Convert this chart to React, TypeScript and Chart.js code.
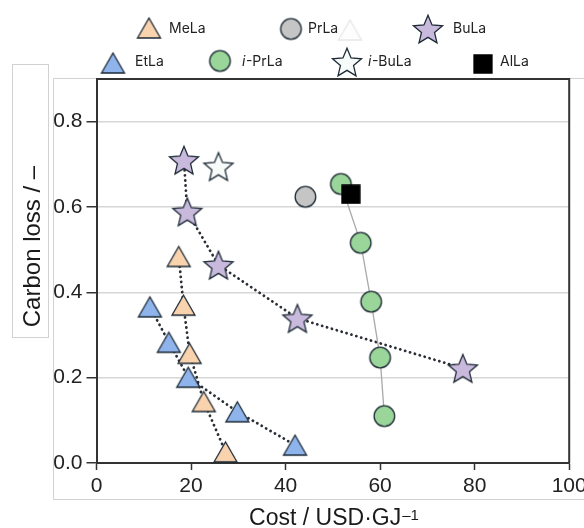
import React, { useEffect, useRef } from 'react';
import { Chart, registerables } from 'chart.js';

Chart.register(...registerables);

// ---- data (Cost / USD·GJ-1, Carbon loss / -) ----
const xTickValues = [0, 20, 40, 60, 80, 100];
const yTickValues = [0, 0.2, 0.4, 0.6, 0.8];

const melaCost = [17.4, 18.4, 19.7, 22.7, 27.3];
const melaLoss = [0.484, 0.37, 0.257, 0.144, 0.026];

const etlaCost = [11.3, 15.3, 19.4, 29.8, 42.0];
const etlaLoss = [0.366, 0.283, 0.201, 0.12, 0.042];

const bulaCost = [18.5, 19.2, 25.8, 42.5, 77.5];
const bulaLoss = [0.71, 0.589, 0.464, 0.339, 0.222];

const ibulaCost = [25.8];
const ibulaLoss = [0.695];

const prlaCost = [44.2];
const prlaLoss = [0.624];

const iprlaCost = [51.7, 55.9, 58.1, 60.0, 60.9];
const iprlaLoss = [0.654, 0.516, 0.378, 0.247, 0.11];

const allaCost = [53.8];
const allaLoss = [0.63];

const toXY = (xs: number[], ys: number[]) => xs.map((x, i) => ({ x, y: ys[i] }));

// ---- marker images ----
const STROKE = '#1d2a35';

function makeMarker(shape: string, fill: string, stroke: string = STROKE): HTMLCanvasElement {
  const c = document.createElement('canvas');
  const ctx = c.getContext('2d')!;
  const lw = 1.3;
  if (shape === 'triangle') {
    const w = 23, h = 20;
    c.width = w + 4; c.height = h + 4;
    ctx.beginPath();
    ctx.moveTo(c.width / 2, 2);
    ctx.lineTo(2 + w, 2 + h);
    ctx.lineTo(2, 2 + h);
    ctx.closePath();
  } else if (shape === 'circle') {
    const r = 10.3;
    c.width = Math.ceil(2 * r + 4); c.height = c.width;
    ctx.beginPath();
    ctx.arc(c.width / 2, c.height / 2, r, 0, Math.PI * 2);
  } else if (shape === 'star') {
    const R = 15.3, r = 6.9;
    c.width = 36; c.height = 36;
    const cx = c.width / 2;
    const cy = c.height / 2 + R * (1 - Math.cos(Math.PI / 5)) / 2;
    ctx.beginPath();
    for (let i = 0; i < 10; i++) {
      const rad = i % 2 === 0 ? R : r;
      const a = -Math.PI / 2 + (i * Math.PI) / 5;
      const px = cx + rad * Math.cos(a);
      const py = cy + rad * Math.sin(a);
      if (i === 0) ctx.moveTo(px, py); else ctx.lineTo(px, py);
    }
    ctx.closePath();
  } else {
    const s = 18;
    c.width = s + 2; c.height = s + 2;
    ctx.beginPath();
    ctx.rect(1, 1, s, s);
  }
  ctx.fillStyle = fill;
  ctx.fill();
  ctx.lineWidth = lw;
  ctx.strokeStyle = stroke;
  ctx.lineJoin = 'miter';
  ctx.stroke();
  return c;
}

const COLORS = {
  mela: '#f9d2ae',
  etla: '#8fb4ec',
  bula: '#c9b9dd',
  ibula: '#f7fbf9',
  prla: '#c5c5c5',
  iprla: '#9ad699',
  alla: '#000000',
};

const TICK_FONT = '"Liberation Sans", Arial, sans-serif';
const LEGEND_FONT = 'Inter, "Noto Sans", sans-serif';

export default function App() {
  const ref = useRef<HTMLCanvasElement | null>(null);

  useEffect(() => {
    if (!ref.current) return;

    const mk = {
      mela: makeMarker('triangle', COLORS.mela),
      etla: makeMarker('triangle', COLORS.etla),
      bula: makeMarker('star', COLORS.bula),
      ibula: makeMarker('star', COLORS.ibula),
      prla: makeMarker('circle', COLORS.prla),
      iprla: makeMarker('circle', COLORS.iprla),
      alla: makeMarker('square', COLORS.alla, '#000'),
      ghost: makeMarker('triangle', '#fdfdfd', '#e6e6e6'),
    };

    const legendItems: { img: HTMLCanvasElement; cx: number; cy: number; tx: number; ty: number; italic?: string; label: string }[] = [
      { img: mk.mela, cx: 149, cy: 28, tx: 169, ty: 28.5, label: 'MeLa' },
      { img: mk.prla, cx: 291, cy: 29, tx: 308, ty: 28.5, label: 'PrLa' },
      { img: mk.ghost, cx: 350, cy: 30, tx: 0, ty: 0, label: '' },
      { img: mk.bula, cx: 428, cy: 29, tx: 453, ty: 28.5, label: 'BuLa' },
      { img: mk.etla, cx: 113, cy: 63, tx: 135, ty: 61.5, label: 'EtLa' },
      { img: mk.iprla, cx: 220, cy: 61, tx: 242, ty: 61.5, italic: 'i', label: '-PrLa' },
      { img: mk.ibula, cx: 347, cy: 62, tx: 368, ty: 61.5, italic: 'i', label: '-BuLa' },
      { img: mk.alla, cx: 483, cy: 64, tx: 500, ty: 62, label: 'AlLa' },
    ];

    const decor = {
      id: 'decor',
      beforeDraw(chart: any) {
        const ctx = chart.ctx as CanvasRenderingContext2D;
        ctx.save();
        ctx.fillStyle = '#ffffff';
        ctx.fillRect(0, 0, chart.width, chart.height);
        ctx.strokeStyle = '#d2d2d2';
        ctx.lineWidth = 1;
        ctx.beginPath();
        ctx.moveTo(584, 78.5);
        ctx.lineTo(53.5, 78.5);
        ctx.lineTo(53.5, 499.5);
        ctx.lineTo(584, 499.5);
        ctx.stroke();
        ctx.strokeRect(12.5, 64.5, 36, 273);
        ctx.restore();
      },
      afterDraw(chart: any) {
        const ctx = chart.ctx as CanvasRenderingContext2D;
        const a = chart.chartArea;
        ctx.save();
        // frame
        ctx.strokeStyle = '#333';
        ctx.lineWidth = 2;
        ctx.beginPath();
        ctx.moveTo(a.left, a.top);
        ctx.lineTo(a.right, a.top);
        ctx.lineTo(a.right, a.bottom);
        ctx.stroke();

        // y title
        ctx.fillStyle = '#1a1a1a';
        ctx.font = `24px ${TICK_FONT}`;
        ctx.textAlign = 'center';
        ctx.textBaseline = 'alphabetic';
        ctx.save();
        ctx.translate(39.5, 246.5);
        ctx.rotate(-Math.PI / 2);
        ctx.fillText('Carbon loss / –', 0, 0);
        ctx.restore();

        // x title with superscript
        const main = 'Cost / USD·GJ';
        const sup = '–1';
        ctx.font = `23px ${TICK_FONT}`;
        const mw = ctx.measureText(main).width;
        ctx.font = `15px ${TICK_FONT}`;
        const sw = ctx.measureText(sup).width;
        const startX = 334 - (mw + sw + 1) / 2;
        ctx.textAlign = 'left';
        ctx.font = `23px ${TICK_FONT}`;
        ctx.fillText(main, startX, 525);
        ctx.font = `15px ${TICK_FONT}`;
        ctx.fillText(sup, startX + mw + 1, 520);

        // legend
        ctx.textBaseline = 'middle';
        ctx.fillStyle = '#222';
        for (const it of legendItems) {
          ctx.drawImage(it.img, it.cx - it.img.width / 2, it.cy - it.img.height / 2);
          if (!it.label) continue;
          let x = it.tx;
          if (it.italic) {
            ctx.font = `italic 14px ${LEGEND_FONT}`;
            ctx.fillText(it.italic, x, it.ty);
            x += ctx.measureText(it.italic).width + 0.5;
          }
          ctx.font = `14px ${LEGEND_FONT}`;
          ctx.fillText(it.label, x, it.ty);
        }
        ctx.restore();
      },
    };

    const dotted = {
      showLine: true,
      borderColor: '#2a2e35',
      borderWidth: 2.8,
      borderDash: [0.1, 5],
      borderCapStyle: 'round' as const,
    };

    const chart = new Chart(ref.current, {
      type: 'scatter',
      data: {
        datasets: [
          { label: 'AlLa', data: toXY(allaCost, allaLoss), pointStyle: mk.alla, pointRadius: 9, showLine: false },
          {
            label: 'i-PrLa', data: toXY(iprlaCost, iprlaLoss), pointStyle: mk.iprla, pointRadius: 10,
            showLine: true, borderColor: '#a9a9a9', borderWidth: 1.3,
          },
          { label: 'PrLa', data: toXY(prlaCost, prlaLoss), pointStyle: mk.prla, pointRadius: 10, showLine: false },
          { label: 'i-BuLa', data: toXY(ibulaCost, ibulaLoss), pointStyle: mk.ibula, pointRadius: 12, showLine: false },
          { label: 'BuLa', data: toXY(bulaCost, bulaLoss), pointStyle: mk.bula, pointRadius: 12, ...dotted },
          { label: 'MeLa', data: toXY(melaCost, melaLoss), pointStyle: mk.mela, pointRadius: 11, ...dotted },
          { label: 'EtLa', data: toXY(etlaCost, etlaLoss), pointStyle: mk.etla, pointRadius: 11, ...dotted },
        ] as any,
      },
      options: {
        animation: false,
        responsive: false,
        maintainAspectRatio: false,
        clip: false as any,
        layout: { padding: { top: 79, right: 12, left: 0, bottom: 0 } },
        plugins: {
          legend: { display: false },
          tooltip: { enabled: false },
          title: { display: false },
        },
        scales: {
          x: {
            type: 'linear',
            min: 0,
            max: 100,
            afterBuildTicks: (s: any) => { s.ticks = xTickValues.map((v) => ({ value: v })); },
            afterFit: (s: any) => { s.height = 65; s.paddingRight = 0; s.paddingLeft = 0; },
            ticks: {
              color: '#222',
              font: { family: TICK_FONT, size: 21 },
              padding: 4,
              maxRotation: 0,
              callback: (v: any) => String(v),
            },
            grid: { drawOnChartArea: false, drawTicks: true, tickLength: 7, tickColor: '#333', tickWidth: 1.5 },
            border: { display: true, color: '#333', width: 2 },
            title: { display: false },
          },
          y: {
            type: 'linear',
            min: 0,
            max: 0.9,
            afterBuildTicks: (s: any) => { s.ticks = yTickValues.map((v) => ({ value: v })); },
            afterFit: (s: any) => { s.width = 96.5; s.paddingTop = 0; s.paddingBottom = 0; },
            ticks: {
              color: '#222',
              font: { family: TICK_FONT, size: 21 },
              padding: 4,
              callback: (v: any) => Number(v).toFixed(1),
            },
            grid: {
              color: '#d6d6d6',
              lineWidth: 1.5,
              drawTicks: true,
              tickLength: 10,
              tickColor: '#333',
              tickWidth: 1.5,
            },
            border: { display: true, color: '#333', width: 2 },
            title: { display: false },
          },
        },
      },
      plugins: [decor],
    });

    return () => chart.destroy();
  }, []);

  return (
    <div style={{ position: 'absolute', left: 0, top: 0, width: 584, height: 528, background: '#fff' }}>
      <canvas ref={ref} width={584} height={528} style={{ display: 'block' }} />
    </div>
  );
}
